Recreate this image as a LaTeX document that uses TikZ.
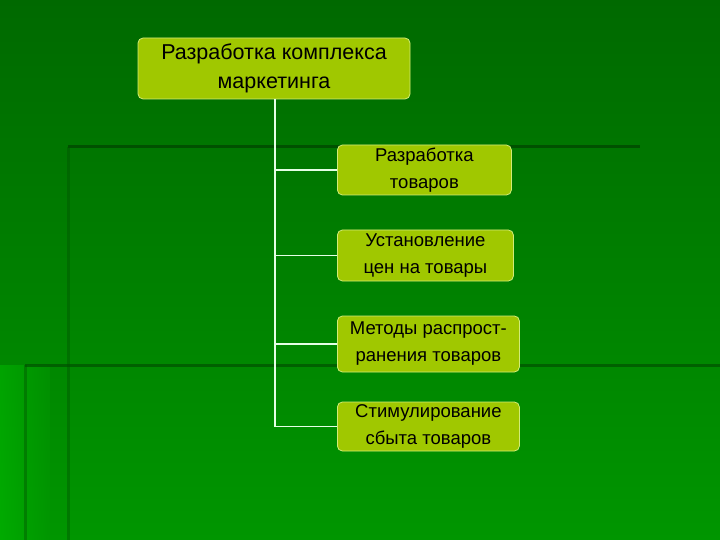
\documentclass[tikz,border=0pt]{standalone}
\usepackage{fontspec}
\setmainfont{Liberation Sans}
\begin{document}
\begin{tikzpicture}[x=1pt,y=-1pt,
  box/.style={draw=lineclr,line width=0.8pt,fill=boxfill,rounded corners=5pt,align=center,inner sep=0pt,text=black},
  conn/.style={draw=white!90!green,line width=1.6pt}]
\definecolor{bgtop}{RGB}{0,105,0}
\definecolor{bgbot}{RGB}{0,150,0}
\definecolor{boxfill}{RGB}{160,200,0}
\definecolor{lineclr}{RGB}{210,235,120}
\definecolor{darkln}{RGB}{0,80,0}
\useasboundingbox (0,0) rectangle (720,540);
\shade[top color=bgtop,bottom color=bgbot] (0,0) rectangle (720,540);
\shade[left color=green!75!black,right color=bgbot,opacity=0.5] (0,365) rectangle (50,540);
\draw[darkln,line width=3pt] (68,147) -- (640,147);
\draw[darkln,line width=3pt,opacity=0.4] (68,147) -- (68,540);
\draw[darkln,line width=3pt,opacity=0.7] (25,365) -- (720,365);
\draw[darkln,line width=3pt,opacity=0.4] (25,365) -- (25,540);
\node[box,minimum width=272pt,minimum height=61pt,font=\fontsize{21.5}{29}\selectfont] (top) at (274,68.5) {Разработка комплекса\\маркетинга};
\begin{scope}[every node/.append style={font=\fontsize{18.5}{27}\selectfont}]
\node[box,anchor=west,minimum width=174pt,minimum height=50pt] (a) at (337,170) {Разработка\\товаров};
\node[box,anchor=west,minimum width=176pt,minimum height=51pt] (b) at (337,255.5) {Установление\\цен на товары};
\node[box,anchor=west,minimum width=182pt,minimum height=56pt] (c) at (337,344) {Методы распрост-\\ранения товаров};
\node[box,anchor=west,minimum width=182pt,minimum height=49pt] (d) at (337,426.5) {Стимулирование\\сбыта товаров};
\end{scope}
\coordinate (v) at (275,0);
\draw[conn] (top.south -| v) |- (d.west);
\foreach \n in {a,b,c} \draw[conn] (\n.west -| v) -- (\n.west);
\end{tikzpicture}
\end{document}
